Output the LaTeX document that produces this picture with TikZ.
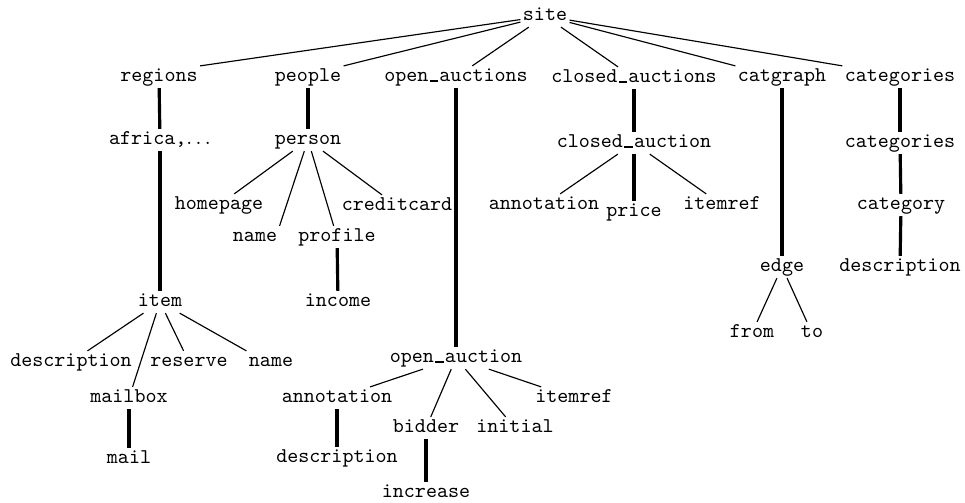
\documentclass[tikz,border=0pt]{standalone}
\newcommand\usc{\makebox[0.525em][c]{\rule[-0.2pt]{0.4em}{1pt}}}
\begin{document}
\begin{tikzpicture}[x=0.4762pt,y=-0.4762pt,
  lbl/.style={font=\ttfamily, inner sep=1pt, text height=6.3pt, text depth=1.9pt},
  thinedge/.style={line width=0.55pt},
  thickedge/.style={line width=1.5pt}]
\useasboundingbox (0,0) rectangle (965,502);
\node[lbl] (site) at (545,16) {site};
\node[lbl] (regions) at (159,77) {regions};
\node[lbl] (people) at (308,77) {people};
\node[lbl] (oas) at (456,77) {open\usc auctions};
\node[lbl] (cas) at (634,78) {closed\usc auctions};
\node[lbl] (catgraph) at (782,77) {catgraph};
\node[lbl] (cats) at (900,77) {categories};
\node[lbl] (africa) at (160,140) {africa,$\ldots$};
\node[lbl] (person) at (308,140) {person};
\node[lbl] (ca) at (634,143) {closed\usc auction};
\node[lbl] (cats2) at (900,143) {categories};
\node[lbl] (homepage) at (219,205) {homepage};
\node[lbl] (pname) at (255,237) {name};
\node[lbl] (profile) at (337,237) {profile};
\node[lbl] (creditcard) at (397,206) {creditcard};
\node[lbl] (income) at (338,302) {income};
\node[lbl] (item) at (160,302) {item};
\node[lbl] (oa) at (456,358) {open\usc auction};
\node[lbl] (caann) at (544,205) {annotation};
\node[lbl] (price) at (634,212) {price};
\node[lbl] (caitemref) at (722,205) {itemref};
\node[lbl] (edge) at (782,267) {edge};
\node[lbl] (category) at (901,205) {category};
\node[lbl] (catdesc) at (900,267) {description};
\node[lbl] (from) at (752,333) {from};
\node[lbl] (to) at (812,333) {to};
\node[lbl] (idesc) at (71,362) {description};
\node[lbl] (reserve) at (189,362) {reserve};
\node[lbl] (iname) at (271,362) {name};
\node[lbl] (mailbox) at (129,398) {mailbox};
\node[lbl] (mail) at (129,459) {mail};
\node[lbl] (oann) at (337,398) {annotation};
\node[lbl] (odesc) at (337,458) {description};
\node[lbl] (bidder) at (426,428) {bidder};
\node[lbl] (initial) at (515,428) {initial};
\node[lbl] (oitemref) at (574,398) {itemref};
\node[lbl] (increase) at (426,493) {increase};
% thin edges
\draw[thinedge] (site) -- (regions.north east);
\draw[thinedge] (site) -- (people.north east);
\draw[thinedge] (site) -- (oas);
\draw[thinedge] (site) -- (cas);
\draw[thinedge] (site) -- (catgraph.north west);
\draw[thinedge] (site) -- (cats.north west);
\draw[thinedge] (person) -- (homepage);
\draw[thinedge] (person) -- (pname.north east);
\draw[thinedge] (person) -- (profile);
\draw[thinedge] (person) -- (creditcard);
\draw[thinedge] (ca) -- (caann);
\draw[thinedge] (ca) -- (caitemref);
\draw[thinedge] (edge) -- (from);
\draw[thinedge] (edge) -- (to);
\draw[thinedge] (item) -- (idesc);
\draw[thinedge] (item) -- (mailbox);
\draw[thinedge] (item) -- (reserve);
\draw[thinedge] (item) -- (iname.north west);
\draw[thinedge] (oa) -- (oann);
\draw[thinedge] (oa) -- (bidder);
\draw[thinedge] (oa) -- (initial);
\draw[thinedge] (oa) -- (oitemref);
% thick edges
\draw[thickedge] (regions) -- (africa);
\draw[thickedge] (africa) -- (item);
\draw[thickedge] (people) -- (person);
\draw[thickedge] (oas) -- (oa);
\draw[thickedge] (cas) -- (ca);
\draw[thickedge] (ca) -- (price);
\draw[thickedge] (catgraph) -- (edge);
\draw[thickedge] (cats) -- (cats2);
\draw[thickedge] (cats2) -- (category);
\draw[thickedge] (category) -- (catdesc);
\draw[thickedge] (profile) -- (income);
\draw[thickedge] (mailbox) -- (mail);
\draw[thickedge] (oann) -- (odesc);
\draw[thickedge] (bidder) -- (increase);
\end{tikzpicture}
\end{document}
